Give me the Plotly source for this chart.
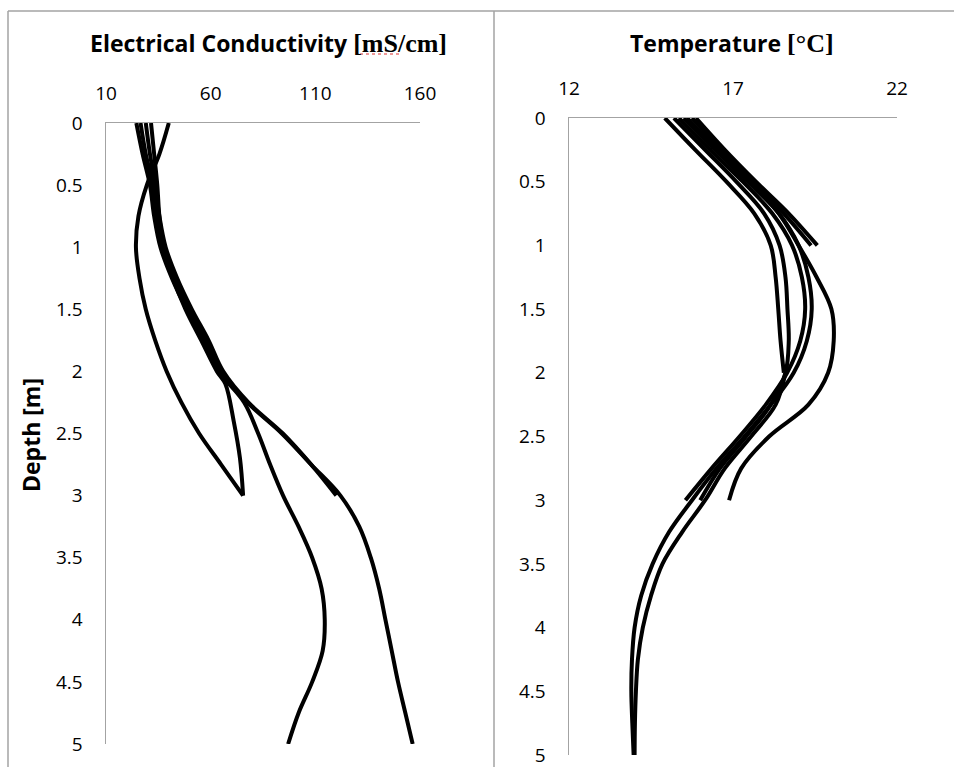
import plotly.graph_objects as go

W, H = 954, 767

# ---------------- Electrical conductivity profiles [mS/cm] vs depth [m] ----------------
ec1_depth = [0, 0.25, 0.5, 0.75, 1, 1.25, 1.5, 1.75, 2, 2.25, 2.5, 2.75, 3, 3.25, 3.5, 3.75, 4, 4.25, 4.5, 4.75, 5]
ec1_value = [24.5, 27.5, 31, 33, 36, 41.5, 48.5, 56.5, 64, 76, 82.7, 88.4, 94.6, 102, 108.5, 113, 114.5, 113.5, 108.5, 102, 97]

ec2_depth = [0, 0.25, 0.5, 0.75, 1, 1.25, 1.5, 1.75, 2, 2.25, 2.5, 2.75, 3, 3.25, 3.5, 3.75, 4, 4.25, 4.5, 4.75, 5]
ec2_value = [26.5, 29, 32.5, 34.5, 37.5, 43, 50, 58, 65, 77.5, 94, 108, 122, 131, 136.5, 140.5, 143.5, 146.5, 149.5, 153, 156.5]

ec3_depth = [0, 0.25, 0.5, 0.75, 1, 1.25, 1.5, 1.75, 2, 2.25, 2.5, 2.75, 3]
ec3_value = [40, 35.5, 29.5, 25.5, 24.3, 26, 29, 33.5, 39, 46, 54.5, 65, 75.5]

ec4_depth = [0, 0.25, 0.5, 0.75, 1, 1.25, 1.5, 1.75, 2, 2.1, 2.4, 2.7, 3]
ec4_value = [31.5, 33, 34.5, 35.5, 37.5, 42, 48, 55.5, 63, 67, 71, 74, 75.5]

ec5_depth = [0, 0.25, 0.5, 0.75, 1, 1.25, 1.5, 1.75, 2, 2.25, 2.5, 2.75, 3]
ec5_value = [29, 31, 33.5, 35.5, 38.5, 44, 51, 59, 66, 78, 94.5, 108, 120]

# ---------------- Temperature profiles [°C] vs depth [m] ----------------
t1_depth = [0, 0.25, 0.5, 0.75, 1]
t1_value = [15.87, 16.75, 17.7, 18.7, 19.57]

t2_depth = [0, 0.25, 0.5, 0.75, 1]
t2_value = [15.75, 16.65, 17.6, 18.55, 19.38]

t3_depth = [0, 0.25, 0.5, 0.75, 1, 1.25, 1.5, 1.75, 2]
t3_value = [14.92, 15.85, 16.8, 17.65, 18.15, 18.3, 18.38, 18.45, 18.55]

t4_depth = [0, 0.25, 0.5, 0.75, 1, 1.25, 1.5, 1.75, 2, 2.25, 2.5, 2.75, 3]
t4_value = [15.2, 16.15, 17.1, 17.95, 18.42, 18.6, 18.66, 18.7, 18.6, 18.15, 17.4, 16.6, 16.0]

t5_depth = [0, 0.25, 0.5, 0.75, 1, 1.25, 1.5, 1.75, 2, 2.25, 2.5, 2.75, 3]
t5_value = [15.6, 16.55, 17.55, 18.4, 19.0, 19.55, 20.0, 20.07, 19.9, 19.3, 18.1, 17.25, 16.88]

t6_depth = [0, 0.25, 0.5, 0.75, 1, 1.25, 1.5, 1.75, 2, 2.25, 2.5, 2.75, 3]
t6_value = [15.35, 16.3, 17.3, 18.2, 18.8, 19.1, 19.2, 19.05, 18.65, 18.0, 17.2, 16.35, 15.55]

t7_depth = [0, 0.25, 0.5, 0.75, 1, 1.25, 1.5, 1.75, 2, 2.25, 2.5, 2.75, 3, 3.25, 3.5, 3.75, 4, 4.25, 4.5, 4.75, 5]
t7_value = [15.5, 16.45, 17.45, 18.4, 19.0, 19.3, 19.4, 19.25, 18.85, 18.15, 17.35, 16.5, 15.75, 15.05, 14.55, 14.2, 14.0, 13.92, 13.9, 13.93, 13.97]

t8_depth = [2, 2.25, 2.5, 2.75, 3, 3.25, 3.5, 3.75, 4, 4.25, 4.5, 4.75, 5]
t8_value = [18.6, 18.3, 17.55, 16.75, 16.15, 15.45, 14.85, 14.5, 14.25, 14.1, 14.04, 14.01, 14.0]

# ---------------- Axis ticks ----------------
ec_ticks = [10, 60, 110, 160]
ec_tick_labels = ["10", "60", "110", "160"]
temp_ticks = [12, 17, 22]
temp_tick_labels = ["12", "17", "22"]
depth_ticks = [0, 0.5, 1, 1.5, 2, 2.5, 3, 3.5, 4, 4.5, 5]
depth_tick_labels = ["0", "0.5", "1", "1.5", "2", "2.5", "3", "3.5", "4", "4.5", "5"]

title_ec = "<b>Electrical Conductivity </b><span style='font-family:Liberation Serif;font-size:26px'><b>[mS/cm]</b></span>"
title_temp = "<b>Temperature </b><span style='font-family:Liberation Serif;font-size:26px'><b>[°C]</b></span>"
title_depth = "<b>Depth [m]</b>"

LINE = dict(color="black", width=4, shape="spline", smoothing=1.0)
GREY = "#a3a3a3"
FONT = "Open Sans, Lato, DejaVu Sans, sans-serif"

fig = go.Figure()
for d, v in [(ec1_depth, ec1_value), (ec2_depth, ec2_value), (ec3_depth, ec3_value),
             (ec4_depth, ec4_value), (ec5_depth, ec5_value)]:
    fig.add_trace(go.Scatter(x=v, y=d, mode="lines", line=LINE, xaxis="x", yaxis="y",
                             showlegend=False, hoverinfo="skip"))
for d, v in [(t1_depth, t1_value), (t2_depth, t2_value), (t3_depth, t3_value), (t4_depth, t4_value),
             (t5_depth, t5_value), (t6_depth, t6_value), (t7_depth, t7_value), (t8_depth, t8_value)]:
    fig.add_trace(go.Scatter(x=v, y=d, mode="lines", line=LINE, xaxis="x2", yaxis="y2",
                             showlegend=False, hoverinfo="skip"))

def px_x(p):
    return p / W

def px_y(p):
    return 1 - p / H

axis_common = dict(showgrid=False, zeroline=False, showline=True, linecolor=GREY, linewidth=1.5,
                   ticks="", automargin=False, ticklabeloverflow="allow",
                   tickfont=dict(family=FONT, size=19, color="black"), fixedrange=True)

fig.update_layout(
    width=W, height=H, autosize=False,
    margin=dict(l=0, r=0, t=0, b=0, pad=0),
    paper_bgcolor="white", plot_bgcolor="white",
    xaxis=dict(domain=[px_x(106), px_x(420)], range=[10, 160], side="top", anchor="y",
               tickvals=ec_ticks, ticktext=ec_tick_labels, ticklabelstandoff=14, **axis_common),
    yaxis=dict(domain=[px_y(744), px_y(123)], range=[5, 0], anchor="x",
               tickvals=depth_ticks, ticktext=depth_tick_labels, ticklabelstandoff=18, **axis_common),
    xaxis2=dict(domain=[px_x(569), px_x(897)], range=[12, 22], side="top", anchor="y2",
                tickvals=temp_ticks, ticktext=temp_tick_labels, ticklabelstandoff=14, **axis_common),
    yaxis2=dict(domain=[px_y(755), px_y(118)], range=[5, 0], anchor="x2",
                tickvals=depth_ticks, ticktext=depth_tick_labels, ticklabelstandoff=18, **axis_common),
    annotations=[
        dict(text=title_ec, x=px_x(268), y=px_y(43), xref="paper", yref="paper",
             xanchor="center", yanchor="middle", showarrow=False,
             font=dict(family=FONT, size=23, color="black")),
        dict(text=title_temp, x=px_x(732), y=px_y(43), xref="paper", yref="paper",
             xanchor="center", yanchor="middle", showarrow=False,
             font=dict(family=FONT, size=23, color="black")),
        dict(text=title_depth, x=px_x(31), y=px_y(435), xref="paper", yref="paper",
             xanchor="center", yanchor="middle", showarrow=False, textangle=-90,
             font=dict(family=FONT, size=23, color="black")),
    ],
    shapes=[
        dict(type="line", xref="paper", yref="paper", x0=px_x(8), x1=px_x(8), y0=0, y1=px_y(11),
             line=dict(color=GREY, width=1.5)),
        dict(type="line", xref="paper", yref="paper", x0=px_x(494), x1=px_x(494), y0=0, y1=px_y(11),
             line=dict(color=GREY, width=1.5)),
        dict(type="line", xref="paper", yref="paper", x0=px_x(8), x1=1, y0=px_y(11), y1=px_y(11),
             line=dict(color=GREY, width=1.5)),
        dict(type="line", xref="paper", yref="paper", x0=px_x(360), x1=px_x(401), y0=px_y(54), y1=px_y(54),
             line=dict(color="#e03030", width=1.2, dash="dot")),
    ],
)

fig.write_html("out.html",
               config={"displayModeBar": False, "staticPlot": True},
               post_script="document.body.style.margin='0';document.body.style.padding='0';"
                           "document.documentElement.style.overflow='hidden';")
